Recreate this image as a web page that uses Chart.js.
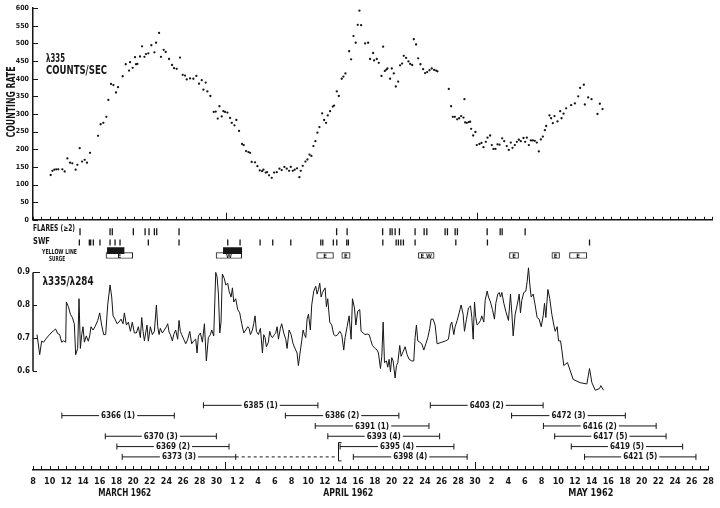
<!DOCTYPE html>
<html>
<head>
<meta charset="utf-8">
<script src="https://cdn.jsdelivr.net/npm/chart.js@4.4.1/dist/chart.umd.min.js"></script>
<style>
  html, body { margin: 0; padding: 0; background: #fff; }
  #wrap { position: relative; width: 720px; height: 508px; overflow: hidden; background: #fff; }
  #wrap canvas { position: absolute; left: 0; }
</style>
</head>
<body>
<div id="wrap">
  <canvas id="countsChart" width="720" height="228" style="top:0px"></canvas>
  <canvas id="eventsChart" width="720" height="43" style="top:221px"></canvas>
  <canvas id="ratioChart" width="720" height="144" style="top:258px"></canvas>
  <canvas id="regionChart" width="720" height="118" style="top:390px"></canvas>
</div>
<script>
// x values are days counted from 8 March 1962 (day 0) to 28 May 1962 (day 81)

// lambda 335 counting rate (counts/sec)
const countDays = [
  2.11,2.31,2.55,2.78,3.02,3.50,3.78,4.10,4.42,4.69,
  5.09,5.29,5.57,5.85,6.17,6.44,6.80,7.76,8.07,8.39,
  8.75,8.99,9.31,9.59,9.90,10.14,10.70,11.06,11.46,11.58,
  11.89,12.17,12.29,12.45,12.77,13.01,13.29,13.48,13.76,14.12,
  14.48,14.68,15.04,15.27,15.59,15.83,16.23,16.59,16.83,17.14,
  17.54,17.86,18.14,18.34,18.74,19.13,19.49,19.81,20.13,20.33,
  20.60,20.80,21.16,21.56,21.80,22.04,22.24,22.51,22.71,22.91,
  23.19,23.51,23.71,24.03,24.26,24.58,24.94,25.14,25.42,25.70,
  25.90,26.09,26.49,26.77,27.05,27.33,27.49,27.76,27.92,28.16,
  28.48,28.76,29.08,29.40,29.67,29.99,30.27,30.55,30.75,30.99,
  31.22,31.50,31.78,31.94,32.18,32.50,32.74,32.98,33.21,33.45,
  33.69,33.93,34.17,34.49,34.73,34.96,35.16,35.44,35.76,35.92,
  36.24,36.48,36.83,37.03,37.27,37.71,37.95,38.23,38.50,38.74,
  38.94,39.14,39.62,39.98,40.21,40.57,40.69,41.01,41.25,41.57,
  41.77,41.97,42.16,42.28,42.60,42.80,43.04,43.28,43.56,43.79,
  44.03,44.23,44.51,44.79,44.99,45.23,45.43,45.70,45.94,46.22,
  46.54,46.78,47.02,47.30,47.57,47.85,48.09,48.25,49.60,49.88,
  50.08,50.32,50.60,50.84,51.07,51.35,51.47,51.55,51.75,51.99,
  52.15,52.27,52.51,52.78,52.94,53.26,53.50,53.74,54.02,54.22,
  54.53,54.73,54.93,55.17,55.41,55.65,55.97,56.21,56.52,56.76,
  57.00,57.20,57.48,57.72,57.96,58.19,58.51,58.71,58.91,59.15,
  59.39,59.63,59.86,60.10,60.34,60.58,60.82,61.06,61.22,61.61,
  61.81,62.01,62.21,62.57,62.89,63.05,63.29,63.60,64.20,64.64,
  65.04,65.27,65.71,65.83,66.23,66.63,67.34,67.62,67.94
];
const countRates = [
  127,139,142,143,143,143,137,174,162,160,
  142,156,203,165,170,162,190,238,271,275,
  292,340,385,382,361,376,407,441,423,447,
  431,461,441,442,463,492,462,470,472,495,
  475,502,530,462,482,476,456,439,430,428,
  460,411,409,398,401,400,408,386,396,369,
  389,364,351,306,307,287,322,293,308,306,
  304,289,275,268,283,252,215,212,195,192,
  190,164,163,152,140,138,142,134,135,126,
  119,134,135,145,141,150,145,139,150,139,
  142,146,121,139,153,165,171,185,181,209,
  223,247,263,302,283,275,296,308,321,324,
  364,351,400,406,415,478,455,521,502,553,
  593,552,500,502,456,473,452,456,445,408,
  491,422,426,429,400,429,415,378,392,438,
  443,465,459,449,442,439,512,497,458,441,
  427,416,419,424,429,425,423,421,371,322,
  292,292,285,288,294,290,342,276,275,277,
  278,258,239,249,212,215,218,206,221,233,
  239,212,201,201,214,213,231,223,209,198,
  219,204,212,221,227,223,232,221,233,212,
  225,225,224,219,194,228,236,254,266,296,
  288,274,294,279,308,288,301,316,325,330,
  350,374,383,327,347,342,300,329,314
];
const countTicks = [0,50,100,150,200,250,300,350,400,450,500,550,600];

// lambda 335 / lambda 284 ratio
const ratioDays = [
  0.48,0.80,1.03,1.27,1.51,1.83,2.15,2.47,2.70,2.94,
  3.18,3.42,3.66,3.90,3.98,4.22,4.46,4.69,4.93,5.09,
  5.33,5.49,5.65,5.81,5.97,6.13,6.36,6.60,6.76,6.92,
  7.16,7.40,7.72,7.96,8.19,8.43,8.67,8.91,9.19,9.39,
  9.55,9.79,10.02,10.26,10.50,10.74,10.90,11.14,11.38,11.62,
  11.85,12.09,12.33,12.57,12.81,12.97,13.13,13.29,13.44,13.60,
  13.76,14.00,14.24,14.48,14.72,14.88,15.04,15.19,15.43,15.67,
  15.91,16.07,16.23,16.39,16.63,16.79,17.02,17.26,17.42,17.58,
  17.74,17.98,18.22,18.46,18.70,18.93,19.17,19.41,19.57,19.73,
  19.97,20.21,20.45,20.68,20.92,21.16,21.32,21.56,21.80,21.96,
  22.12,22.28,22.43,22.59,22.83,22.99,23.23,23.39,23.63,23.79,
  23.95,24.18,24.42,24.66,24.90,25.14,25.38,25.62,25.78,25.94,
  26.17,26.33,26.49,26.65,26.89,27.13,27.37,27.53,27.68,27.84,
  28.08,28.24,28.40,28.56,28.80,28.96,29.12,29.28,29.51,29.67,
  29.91,30.15,30.31,30.55,30.79,31.03,31.26,31.50,31.66,31.90,
  32.06,32.22,32.38,32.54,32.70,32.86,33.09,33.25,33.49,33.73,
  33.89,34.05,34.21,34.37,34.53,
  34.85,35.00,35.16,35.40,35.64,35.88,36.12,36.36,36.60,36.83,
  37.07,37.23,37.47,37.71,37.95,38.11,38.35,38.51,38.74,38.98,
  39.14,39.38,39.62,39.86,40.10,40.26,40.49,40.81,41.05,41.21,
  41.45,41.61,41.77,41.93,42.16,42.32,42.48,42.64,42.80,42.96,
  43.20,43.36,43.52,43.75,43.91,44.15,44.39,44.63,44.87,45.19,
  45.42,45.58,45.74,45.90,46.14,46.38,46.62,46.86,47.10,47.33,
  47.49,47.73,47.97,48.21,48.77,49.24,49.56,49.80,49.96,50.20,
  50.36,50.60,50.84,51.07,51.31,51.47,51.71,51.95,52.19,52.35,
  52.51,52.67,52.82,52.98,53.14,53.38,53.54,53.78,53.94,54.18,
  54.34,54.57,54.81,55.05,55.21,55.45,55.61,55.77,55.93,56.17,
  56.40,56.72,56.96,57.12,57.28,57.52,57.76,58.00,58.15,58.31,
  58.55,58.79,58.95,59.11,59.27,59.43,59.67,59.90,60.14,60.38,
  60.62,60.86,61.02,61.18,61.42,61.65,61.89,62.13,62.29,62.53,
  62.69,62.93,63.09,63.32,63.76,64.44,65.27,66.07,66.39,66.67,
  67.07,67.58,67.74,68.06
];
const ratioValues = [
  0.711,0.650,0.691,0.688,0.697,0.707,0.716,0.723,0.728,0.714,
  0.711,0.688,0.692,0.688,0.810,0.796,0.773,0.763,0.744,0.650,
  0.669,0.820,0.669,0.711,0.735,0.688,0.707,0.691,0.707,0.735,
  0.725,0.735,0.754,0.777,0.740,0.711,0.711,0.801,0.862,0.825,
  0.768,0.758,0.744,0.749,0.758,0.744,0.777,0.740,0.749,0.721,
  0.749,0.716,0.716,0.735,0.702,0.763,0.721,0.692,0.716,0.740,
  0.691,0.735,0.711,0.721,0.801,0.735,0.711,0.730,0.716,0.725,
  0.735,0.744,0.719,0.711,0.692,0.711,0.725,0.697,0.754,0.721,
  0.711,0.697,0.683,0.697,0.721,0.683,0.692,0.697,0.655,0.707,
  0.716,0.688,0.744,0.631,0.702,0.711,0.725,0.707,0.900,0.886,
  0.834,0.716,0.749,0.895,0.881,0.862,0.867,0.843,0.825,0.853,
  0.810,0.820,0.787,0.777,0.744,0.716,0.725,0.735,0.730,0.711,
  0.725,0.744,0.768,0.721,0.711,0.730,0.655,0.711,0.702,0.674,
  0.688,0.721,0.707,0.702,0.711,0.716,0.735,0.697,0.730,0.744,
  0.716,0.697,0.669,0.725,0.711,0.683,0.669,0.655,0.617,0.664,
  0.692,0.725,0.711,0.702,0.758,0.773,0.725,0.801,0.843,0.858,
  0.834,0.848,0.867,0.825,0.839,
  0.853,0.796,0.820,0.749,0.740,0.711,0.707,0.711,0.721,0.711,
  0.664,0.702,0.735,0.768,0.697,0.820,0.792,0.740,0.782,0.787,
  0.721,0.716,0.711,0.713,0.711,0.697,0.678,0.669,0.664,0.655,
  0.608,0.645,0.749,0.626,0.631,0.612,0.636,0.598,0.641,0.631,
  0.579,0.617,0.626,0.678,0.645,0.659,0.674,0.650,0.636,0.631,
  0.631,0.702,0.740,0.692,0.688,0.683,0.664,0.683,0.702,0.730,
  0.758,0.758,0.740,0.683,0.688,0.692,0.697,0.740,0.749,0.711,
  0.735,0.754,0.777,0.801,0.773,0.721,0.758,0.792,0.798,0.763,
  0.697,0.810,0.763,0.740,0.744,0.754,0.768,0.749,0.815,0.843,
  0.825,0.810,0.787,0.758,0.806,0.834,0.839,0.825,0.839,0.806,
  0.782,0.754,0.834,0.777,0.707,0.773,0.801,0.834,0.777,0.815,
  0.839,0.843,0.872,0.914,0.862,0.825,0.834,0.801,0.763,0.758,
  0.735,0.768,0.806,0.763,0.848,0.820,0.773,0.740,0.721,0.735,
  0.692,0.692,0.664,0.617,0.626,0.575,0.565,0.561,0.608,0.565,
  0.542,0.547,0.556,0.542
];
const ratioTicks = [0.6, 0.7, 0.8, 0.9];

// event rows (row numbers down the strip)
const flareRow = 0, swfRow = 1, yellowRow = 1.75, surgeRow = 2.2;
const flareDays = [5.61,9.19,9.46,11.97,13.37,13.84,14.48,14.76,17.42,36.22,37.47,41.71,42.60,42.84,
  43.20,43.71,45.58,46.66,46.98,49.16,49.44,50.36,50.63,54.18,55.73,55.97,58.71];
const swfDays = [5.53,6.72,6.88,7.20,7.99,9.19,9.79,10.38,13.76,17.42,23.23,24.70,27.09,28.60,30.75,
  34.33,34.57,35.83,36.24,37.43,37.62,41.73,43.32,43.59,43.88,44.19,45.58,50.44,54.21,66.39];
const yellowStart = [8.87, 22.71];
const yellowEnd = [10.86, 24.90];
const surgeStart = [8.71, 21.84, 33.85, 36.84, 45.98, 56.84, 61.90, 64.00];
const surgeEnd = [11.90, 24.90, 35.84, 37.83, 47.85, 57.92, 62.81, 66.07];
const surgeMarks = ['E', 'W', 'E', 'E', 'E W', 'E', 'E', 'E'];

// active regions: number, class, first and last day, row
const regionNames = ['6385','6366','6370','6369','6373','6403','6386','6472','6391','6416','6393','6417','6395','6419','6398','6421'];
const regionClass = [1,1,3,2,3,2,2,3,1,2,4,5,4,5,4,5];
const regionStart = [20.44,3.46,8.67,10.06,10.70,47.65,30.27,57.40,33.85,61.22,35.36,62.57,36.83,64.56,38.42,66.15];
const regionEnd = [34.17,16.95,21.99,23.51,24.31,61.18,43.88,71.04,47.49,74.74,48.77,75.93,50.48,77.92,52.07,79.51];
const regionRow = [0,1,3,4,5,0,1,1,2,2,3,3,4,4,5,5];
const linkFrom = '6373';
const linkEnd = 36.55;
const bracketRegions = ['6395', '6398'];

// date axis
const tickDays = [0,2,4,6,8,10,12,14,16,18,20,22,24,25,27,29,31,33,35,37,39,41,43,45,47,49,51,53,
  55,57,59,61,63,65,67,69,71,73,75,77,79,81];
const tickLabels = ['8','10','12','14','16','18','20','22','24','26','28','30','1','2','4','6','8','10','12','14',
  '16','18','20','22','24','26','28','30','2','4','6','8','10','12','14','16','18','20','22','24','26','28'];
const monthNames = ['MARCH 1962', 'APRIL 1962', 'MAY 1962'];
const monthDays = [11.0, 37.8, 66.9];
const monthEnds = [23, 53];
const allDays = Array.from({ length: 82 }, (_, i) => i);

const FONT = "'Liberation Sans Narrow', 'DejaVu Sans Condensed', 'DejaVu Sans', sans-serif";
const INK = '#161616';
Chart.defaults.font.family = FONT;
Chart.defaults.color = INK;
Chart.defaults.animation = false;

// little tick marks that point into the plot, and axis segments
const innerTicks = {
  id: 'innerTicks',
  afterDraw(chart, args, opts) {
    const ctx = chart.ctx, area = chart.chartArea;
    ctx.save();
    ctx.strokeStyle = INK;
    ctx.lineWidth = 1;
    if (opts.xTicks) {
      const xs = chart.scales.x;
      opts.xTicks.forEach(v => {
        const px = Math.round(xs.getPixelForValue(v)) + 0.5;
        const len = monthEnds.includes(v) ? opts.xTall : opts.xLen;
        ctx.beginPath(); ctx.moveTo(px, area.bottom); ctx.lineTo(px, area.bottom - len); ctx.stroke();
      });
    }
    if (opts.yLine) {
      const ys = chart.scales.y;
      ctx.lineWidth = 1.5;
      ctx.beginPath();
      ctx.moveTo(area.left, ys.getPixelForValue(opts.yLine[1]));
      ctx.lineTo(area.left, ys.getPixelForValue(opts.yLine[0]));
      ctx.stroke();
      ctx.lineWidth = 1;
    }
    if (opts.yTicks) {
      const ys = chart.scales.y;
      opts.yTicks.forEach((v, i) => {
        const py = Math.round(ys.getPixelForValue(v)) + 0.5;
        const len = (opts.yTopLen && i === opts.yTicks.length - 1) ? opts.yTopLen : opts.yLen;
        ctx.beginPath(); ctx.moveTo(area.left, py); ctx.lineTo(area.left + len, py); ctx.stroke();
      });
    }
    ctx.restore();
  }
};

// free text drawn on a canvas, squeezed to the width measured on the original
const texts = {
  id: 'texts',
  afterDraw(chart, args, opts) {
    const ctx = chart.ctx;
    (opts.items || []).forEach(t => {
      ctx.save();
      ctx.font = 'bold ' + t.size + 'px ' + FONT;
      ctx.fillStyle = INK;
      ctx.textBaseline = 'middle';
      ctx.textAlign = t.align || 'left';
      ctx.translate(t.x, t.y);
      if (t.rotate) ctx.rotate(t.rotate);
      if (t.width) ctx.scale(t.width / ctx.measureText(t.text).width, 1);
      ctx.fillText(t.text, 0, 0);
      ctx.restore();
    });
  }
};

// letters inside the surge boxes
const surgeLetters = {
  id: 'surgeLetters',
  afterDatasetsDraw(chart) {
    const ctx = chart.ctx;
    const meta = chart.getDatasetMeta(1);
    ctx.save();
    ctx.font = 'bold 6px ' + FONT;
    ctx.fillStyle = INK;
    ctx.textAlign = 'center';
    ctx.textBaseline = 'middle';
    meta.data.forEach((bar, i) => {
      const p = bar.getProps(['x', 'y', 'base'], true);
      ctx.fillText(surgeMarks[i], (p.x + p.base) / 2, p.y + 0.5);
    });
    ctx.restore();
  }
};

// region numbers on their bars, the return bracket and the month names
const regionLabels = {
  id: 'regionLabels',
  afterDatasetsDraw(chart) {
    const ctx = chart.ctx, xs = chart.scales.x, ys = chart.scales.y;
    ctx.save();
    ctx.font = 'bold 8px ' + FONT;
    ctx.textAlign = 'center';
    ctx.textBaseline = 'middle';
    regionNames.forEach((name, i) => {
      const txt = name + ' (' + regionClass[i] + ')';
      const cx = xs.getPixelForValue((regionStart[i] + regionEnd[i]) / 2);
      const cy = ys.getPixelForValue(regionRow[i]);
      const w = ctx.measureText(txt).width + 4;
      ctx.fillStyle = '#fff';
      ctx.fillRect(cx - w / 2, cy - 4, w, 8);
      ctx.fillStyle = INK;
      ctx.fillText(txt, cx, cy + 0.5);
    });
    const bx = Math.round(xs.getPixelForValue(linkEnd)) + 0.5;
    const top = ys.getPixelForValue(regionRow[regionNames.indexOf(bracketRegions[0])]) - 4;
    const bottom = ys.getPixelForValue(regionRow[regionNames.indexOf(bracketRegions[1])]) + 4;
    ctx.strokeStyle = INK;
    ctx.lineWidth = 1;
    ctx.beginPath();
    ctx.moveTo(bx + 3, top); ctx.lineTo(bx, top); ctx.lineTo(bx, bottom); ctx.lineTo(bx + 3, bottom);
    ctx.stroke();
    const widths = [53, 50, 45];
    ctx.font = 'bold 11px ' + FONT;
    monthNames.forEach((m, i) => {
      const cx = xs.getPixelForValue(monthDays[i]);
      ctx.save();
      ctx.translate(cx, chart.chartArea.bottom + 23);
      ctx.scale(widths[i] / ctx.measureText(m).width, 1);
      ctx.fillText(m, 0, 0);
      ctx.restore();
    });
    ctx.restore();
  }
};

const fixedWidth = w => scale => { scale.width = w; };
const xRange = { type: 'linear', min: 0, max: 81, offset: false };

// top panel: counting rate
new Chart(document.getElementById('countsChart'), {
  type: 'scatter',
  data: {
    datasets: [{
      label: 'λ335 counts/sec',
      data: countDays.map((d, i) => ({ x: d, y: countRates[i] })),
      pointRadius: 1.15,
      pointBorderWidth: 0,
      pointBackgroundColor: INK
    }]
  },
  options: {
    responsive: false,
    layout: { padding: { left: 0, right: 8, top: 8, bottom: 8 } },
    plugins: {
      legend: { display: false },
      tooltip: { enabled: false },
      innerTicks: { xTicks: allDays, xLen: 3, xTall: 7, yTicks: countTicks, yLen: 5 },
      texts: { items: [
        { text: 'λ335', x: 46, y: 59, size: 12, width: 19 },
        { text: 'COUNTS/SEC', x: 46, y: 71, size: 12, width: 61 },
        { text: 'COUNTING RATE', x: 12, y: 102, size: 13, width: 71, align: 'center', rotate: -Math.PI / 2 }
      ] }
    },
    scales: {
      x: { ...xRange, ticks: { display: false }, grid: { display: false, drawTicks: false },
           border: { display: true, color: INK, width: 1.5 } },
      y: { min: 0, max: 600, afterBuildTicks: s => { s.ticks = countTicks.map(v => ({ value: v })); },
           ticks: { font: { size: 7, weight: 'bold' }, padding: 4, color: INK },
           grid: { display: false, drawTicks: false }, border: { display: true, color: INK, width: 1.5 },
           afterFit: fixedWidth(33) }
    }
  },
  plugins: [innerTicks, texts]
});

// event rows: flares, SWF, yellow line and surges
new Chart(document.getElementById('eventsChart'), {
  type: 'bar',
  data: {
    datasets: [
      { label: 'Yellow line', data: yellowStart.map((s, i) => ({ x: [s, yellowEnd[i]], y: yellowRow })),
        backgroundColor: INK, barThickness: 6, grouped: false },
      { label: 'Surge', data: surgeStart.map((s, i) => ({ x: [s, surgeEnd[i]], y: surgeRow })),
        backgroundColor: '#fff', borderColor: INK, borderWidth: 1, borderSkipped: false,
        barThickness: 6, grouped: false },
      { type: 'scatter', label: 'Flares', data: flareDays.map(d => ({ x: d, y: flareRow })),
        pointStyle: 'line', rotation: 90, pointRadius: 3.5, pointBorderWidth: 1.3, pointBorderColor: INK },
      { type: 'scatter', label: 'SWF', data: swfDays.map(d => ({ x: d, y: swfRow })),
        pointStyle: 'line', rotation: 90, pointRadius: 3, pointBorderWidth: 1.3, pointBorderColor: INK }
    ]
  },
  options: {
    responsive: false,
    indexAxis: 'y',
    layout: { padding: { left: 33, right: 8, top: 0, bottom: 0 } },
    plugins: {
      legend: { display: false },
      tooltip: { enabled: false },
      texts: { items: [
        { text: 'FLARES (≥2)', x: 33, y: 7.5, size: 8, width: 42 },
        { text: 'SWF', x: 33, y: 21, size: 8, width: 17 },
        { text: 'YELLOW LINE', x: 59.5, y: 31.5, size: 7, width: 35, align: 'center' },
        { text: 'SURGE', x: 57, y: 38.5, size: 7, width: 16, align: 'center' }
      ] }
    },
    scales: {
      x: { ...xRange, display: false },
      y: { type: 'linear', reverse: true, min: -0.5, max: 2.5, offset: false, grace: 0, display: false }
    }
  },
  plugins: [texts, surgeLetters]
});

// middle panel: ratio
new Chart(document.getElementById('ratioChart'), {
  type: 'line',
  data: {
    datasets: [{
      label: 'λ335/λ284',
      data: ratioDays.map((d, i) => ({ x: d, y: ratioValues[i] })),
      borderColor: INK,
      borderWidth: 1,
      pointRadius: 0,
      tension: 0
    }]
  },
  options: {
    responsive: false,
    layout: { padding: { left: 0, right: 8, top: 3, bottom: 3 } },
    plugins: {
      legend: { display: false },
      tooltip: { enabled: false },
      innerTicks: { yLine: [0.6, 0.9], yTicks: ratioTicks, yLen: 4, yTopLen: 7 },
      texts: { items: [{ text: 'λ335/λ284', x: 42.5, y: 23.5, size: 12, width: 51 }] }
    },
    scales: {
      x: { ...xRange, display: false },
      y: { min: 0.53, max: 0.92, afterBuildTicks: s => { s.ticks = ratioTicks.map(v => ({ value: v })); },
           ticks: { font: { size: 8, weight: 'bold' }, padding: 3, color: INK, callback: v => v.toFixed(1) },
           grid: { display: false, drawTicks: false }, border: { display: false },
           afterFit: fixedWidth(33) }
    }
  },
  plugins: [innerTicks, texts]
});

// bottom panel: active regions and the date axis
const regionSets = regionNames.map((name, i) => ({
  label: name,
  data: [{ x: regionStart[i], y: regionRow[i] }, { x: regionEnd[i], y: regionRow[i] }],
  showLine: true,
  borderColor: INK,
  borderWidth: 1,
  pointStyle: 'line',
  rotation: 90,
  pointRadius: 3,
  pointBorderWidth: 1,
  pointBorderColor: INK
}));
const linkIdx = regionNames.indexOf(linkFrom);
regionSets.push({
  label: 'return',
  data: [{ x: regionEnd[linkIdx], y: regionRow[linkIdx] }, { x: linkEnd, y: regionRow[linkIdx] }],
  showLine: true,
  borderColor: INK,
  borderWidth: 1,
  borderDash: [3, 3],
  pointRadius: 0
});

new Chart(document.getElementById('regionChart'), {
  type: 'scatter',
  data: { datasets: regionSets },
  options: {
    responsive: false,
    layout: { padding: { left: 33, right: 8, top: 0, bottom: 0 } },
    plugins: {
      legend: { display: false },
      tooltip: { enabled: false },
      innerTicks: { xTicks: allDays, xLen: 4, xTall: 8 }
    },
    scales: {
      x: { ...xRange,
           afterBuildTicks: s => { s.ticks = allDays.map(v => ({ value: v })); },
           ticks: { autoSkip: false, maxRotation: 0, minRotation: 0, padding: 6, color: INK,
                    font: { size: 9, weight: 'bold' },
                    callback: v => { const k = tickDays.indexOf(v); return k >= 0 ? tickLabels[k] : ''; } },
           grid: { display: false, drawTicks: false },
           border: { display: true, color: INK, width: 1.5 },
           afterFit: s => { s.height = 38; } },
      y: { type: 'linear', reverse: true, min: -1, max: 6.27, display: false }
    }
  },
  plugins: [innerTicks, regionLabels]
});
</script>
</body>
</html>
